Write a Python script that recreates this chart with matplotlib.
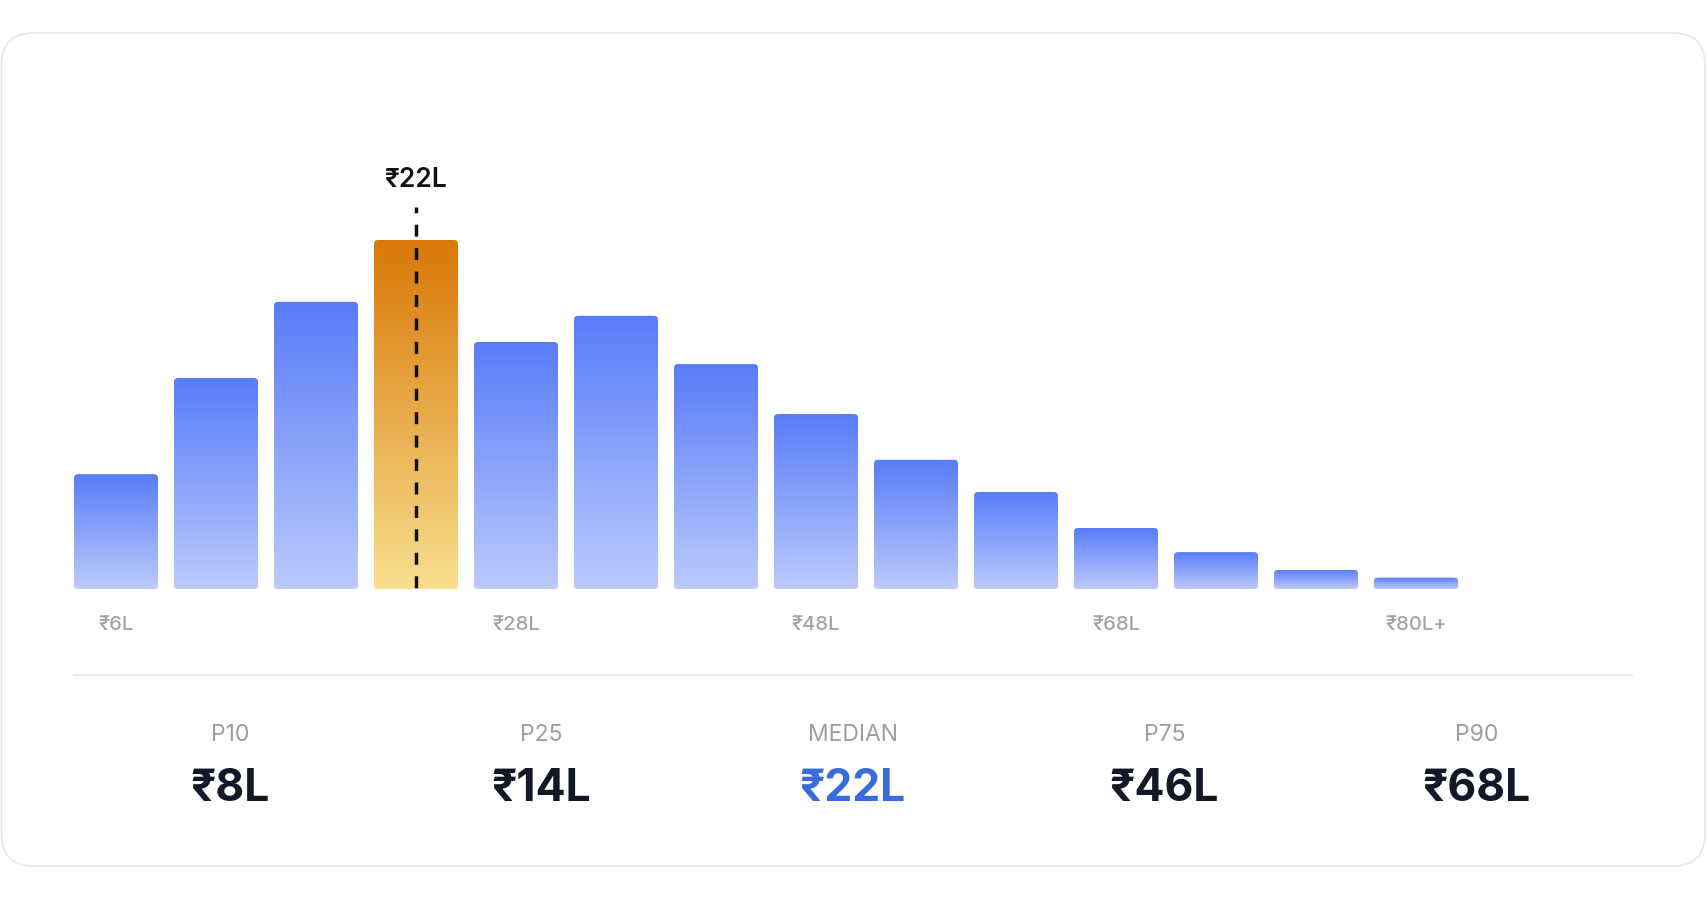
import matplotlib
matplotlib.use("Agg")

import numpy as np
import matplotlib.pyplot as plt
from matplotlib.patches import FancyBboxPatch
from matplotlib.colors import LinearSegmentedColormap

plt.rcParams["font.family"] = ["Inter", "DejaVu Sans"]

# salary distribution (relative share per bin, tallest = 100)
share = [33.0, 60.5, 82.3, 100.0, 70.8, 78.3, 64.5, 50.2, 37.1, 27.9, 17.6, 10.7, 5.6, 3.4]
tick_idx = [0, 4, 7, 10, 13]
tick_labels = ["₹6L", "₹28L", "₹48L", "₹68L", "₹80L+"]
median_bin = 3
median_label = "₹22L"

pct_names = ["P10", "P25", "MEDIAN", "P75", "P90"]
pct_values = ["₹8L", "₹14L", "₹22L", "₹46L", "₹68L"]
highlight = "MEDIAN"

W, H = 1708, 899
fig = plt.figure(figsize=(W / 100, H / 100), dpi=100)
fig.patch.set_facecolor("white")

# card outline
card = FancyBboxPatch((1.5 / W, 33 / H), 1703.5 / W, 833 / H,
                      boxstyle="round,pad=0,rounding_size=%f" % (32 / W),
                      mutation_aspect=W / H, transform=fig.transFigure,
                      facecolor="white", edgecolor="#e8e8e8", linewidth=1.2,
                      zorder=-5)
fig.patches.append(card)

ax_l, ax_r, ax_b, ax_t = 74, 1632, 589.5, 150
ax = fig.add_axes([ax_l / W, (H - ax_b) / H, (ax_r - ax_l) / W, (ax_b - ax_t) / H])
ax.set_facecolor("none")
ax.set_zorder(2)

x = np.arange(len(share))
bar_w = 0.84
xlim = (-bar_w / 2, -bar_w / 2 + (ax_r - ax_l) / 100)
ylim = (0, 125.75)

blue = LinearSegmentedColormap.from_list("blue", ["#bccafd", "#587cf9"])
orange = LinearSegmentedColormap.from_list("orange", ["#f8df8e", "#d97706"])

px_x = (ax_r - ax_l) / (xlim[1] - xlim[0])
px_y = (ax_b - ax_t) / (ylim[1] - ylim[0])

bars = ax.bar(x, share, width=bar_w, color="none", edgecolor="none")
grad = np.linspace(1, 0, 256).reshape(-1, 1)
for i, b in enumerate(bars):
    x0, w, h = b.get_x(), b.get_width(), b.get_height()
    clip = FancyBboxPatch((x0, 0), w, h,
                          boxstyle="round,pad=0,rounding_size=%f" % (4 / px_x),
                          mutation_aspect=px_x / px_y, transform=ax.transData,
                          facecolor="none", edgecolor="none")
    cmap = orange if i == median_bin else blue
    im = ax.imshow(grad, extent=[x0, x0 + w, 0, h], aspect="auto", cmap=cmap,
                   interpolation="bilinear", vmin=0, vmax=1, zorder=2)
    im.set_clip_path(clip)

# median marker (dashes run from the top down)
top = share[median_bin] + 33 / px_y
ax.plot([median_bin, median_bin], [top, 0], color="#111111", lw=2.5,
        linestyle=(1.8, (3.45, 3.3)), zorder=3, solid_capstyle="butt")
ax.text(median_bin, share[median_bin] + 60 / px_y, median_label, ha="center", va="center",
        fontsize=19, fontweight="semibold", color="#111111")

ax.set_xlim(*xlim)
ax.set_ylim(*ylim)
ax.set_xticks(tick_idx, tick_labels)
ax.tick_params(axis="x", length=0, pad=19, labelsize=14.5, labelcolor="#a3a3a3")
for lbl in ax.get_xticklabels():
    lbl.set_fontweight("medium")
ax.set_yticks([])
for s in ax.spines.values():
    s.set_visible(False)

# divider
div_y = -(675 - ax_b) / (ax_b - ax_t)
ax.plot([0, 1], [div_y, div_y], transform=ax.transAxes, clip_on=False,
        color="#ececec", lw=1.6)

# percentile summary
name_y = -(735 - ax_b) / (ax_b - ax_t)
val_y = -(789 - ax_b) / (ax_b - ax_t)
for j, (nm, val) in enumerate(zip(pct_names, pct_values)):
    cx = (j + 0.5) / len(pct_names)
    ax.text(cx, name_y, nm, transform=ax.transAxes, ha="center", va="center",
            fontsize=16.5, color="#9e9e9e")
    ax.text(cx, val_y, val, transform=ax.transAxes, ha="center", va="center",
            fontsize=32, fontweight="bold",
            color="#3a6cd9" if nm == highlight else "#141826")

fig.savefig("out.png", dpi=100, facecolor="white")
